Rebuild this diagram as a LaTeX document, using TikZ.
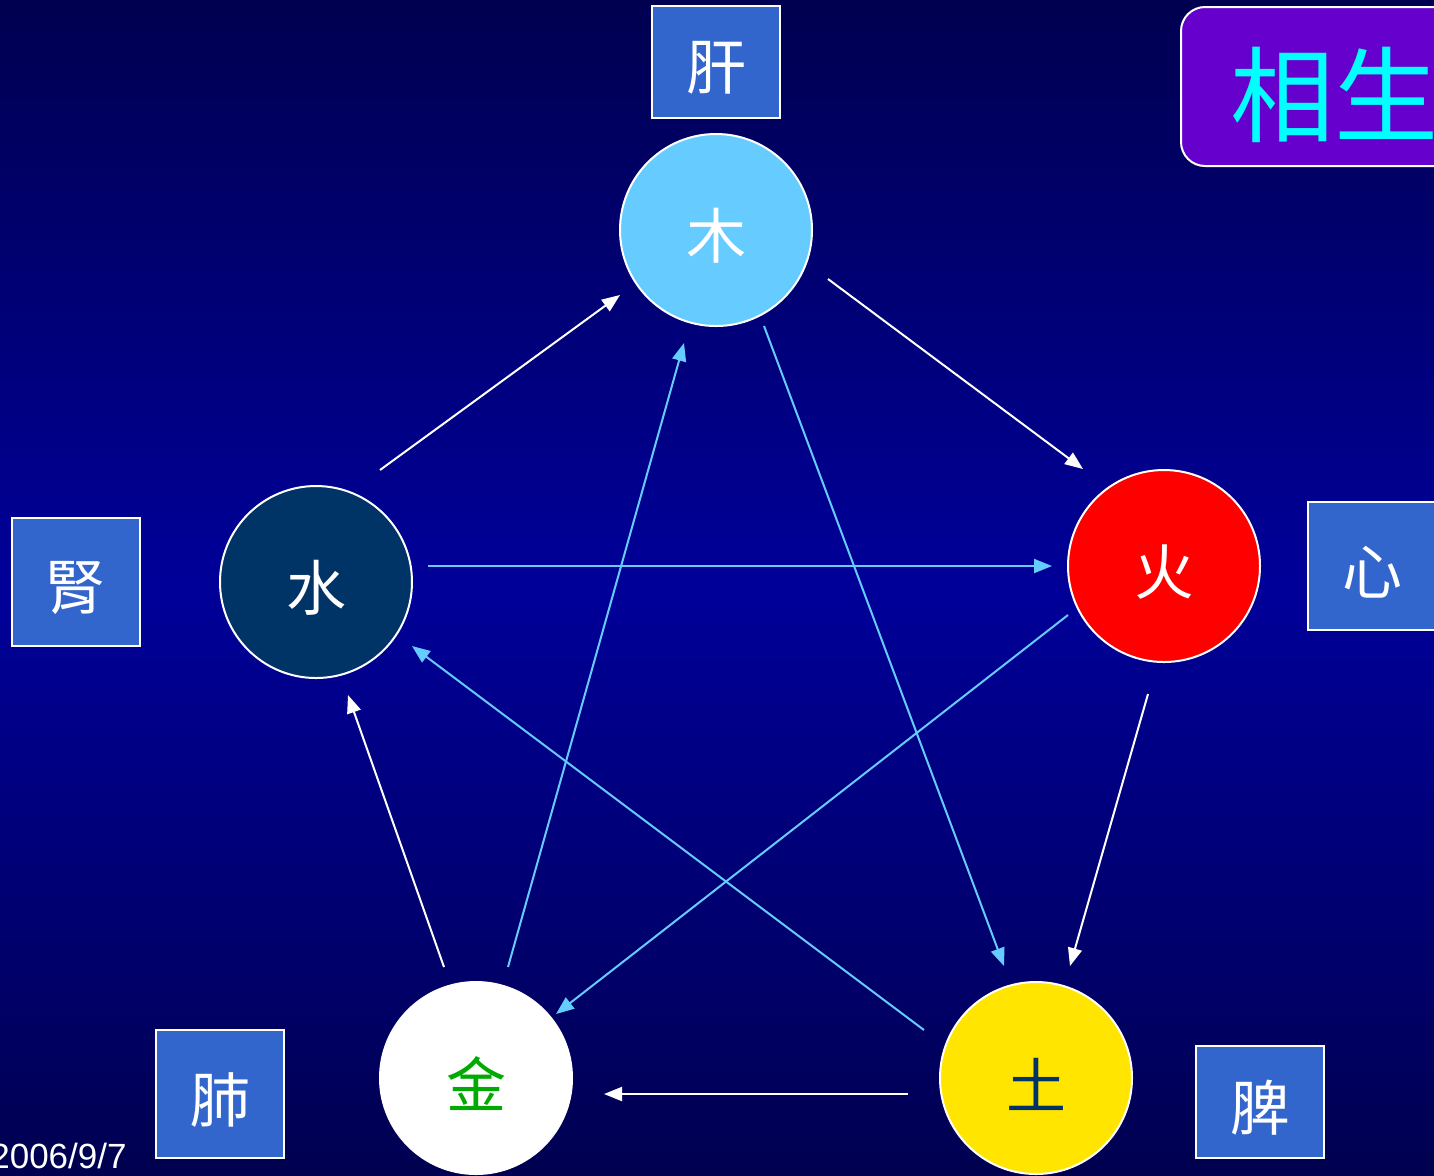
\documentclass[tikz,border=0pt]{standalone}
\usepackage{fontspec}
\setmainfont{Liberation Sans}
\newfontfamily\cjk{Noto Sans CJK TC}
\usetikzlibrary{arrows.meta}
\definecolor{bgtop}{HTML}{000050}
\definecolor{bgmid}{HTML}{000099}
\definecolor{boxblue}{HTML}{3366CC}
\definecolor{titlepurple}{HTML}{6600CC}
\definecolor{titlecyan}{HTML}{00FFFF}
\definecolor{woodblue}{HTML}{66CCFF}
\definecolor{waterblue}{HTML}{003366}
\definecolor{firered}{HTML}{FF0000}
\definecolor{earthyellow}{HTML}{FFE500}
\definecolor{metalgreen}{HTML}{00AA00}
\definecolor{starblue}{HTML}{66CCFF}
\tikzset{
  organ/.style={draw=white, line width=1pt, fill=boxblue,
    minimum width=64pt, inner sep=0pt},
  element/.style={circle, draw=white, line width=1pt, minimum size=96pt,
    inner sep=0pt},
  glyph/.style={inner sep=0pt, yshift=-3pt, font=\cjk\fontsize{30}{30}\selectfont},
  genarrow/.style={draw=white, line width=1pt, -{Triangle[length=9pt,width=7pt]}},
  ctrlarrow/.style={draw=starblue, line width=1pt, -{Triangle[length=9pt,width=7pt]}},
}
\begin{document}
\begin{tikzpicture}[x=0.5pt,y=-0.5pt]
\useasboundingbox (0,0) rectangle (1434,1175);
\clip (0,0) rectangle (1434,1175);
% background gradient: dark at top and bottom, brighter in the middle
\foreach \i in {0,...,117} {
  \pgfmathsetmacro\t{100*(1-abs(\i*10+5-587.5)/587.5)}
  \fill[bgmid!\t!bgtop] (0,\i*10) rectangle (1434,\i*10+10.6);
}

% title
\draw[draw=white, line width=1pt, fill=titlepurple, rounded corners=12pt] (1181,7) rectangle (1480,166);
\node[anchor=west, inner sep=0pt, text=titlecyan, font=\cjk\fontsize{52}{52}\selectfont] (title) at (1230,95) {相生};

% elements
\node[element, fill=woodblue, label={[glyph, text=white]center:木}] (wood) at (716,230) {};
\node[element, fill=waterblue, label={[glyph, text=white]center:水}] (water) at (316,582) {};
\node[element, fill=firered, label={[glyph, text=white]center:火}] (fire) at (1164,566) {};
\node[element, fill=white, label={[glyph, text=metalgreen]center:金}] (metal) at (476,1078) {};
\node[element, fill=earthyellow, label={[glyph, text=waterblue]center:土}] (earth) at (1036,1078) {};

% organs
\node[organ, minimum height=56pt, label={[glyph, text=white]center:肝}] (liver) at (716,62) {};
\node[organ, minimum height=64pt, label={[glyph, text=white]center:腎}] (kidney) at (75.5,582) {};
\node[organ, minimum height=64pt, label={[glyph, text=white]center:心}] (heart) at (1372,566) {};
\node[organ, minimum height=64pt, label={[glyph, text=white]center:肺}] (lung) at (220,1094) {};
\node[organ, minimum height=56pt, label={[glyph, text=white]center:脾}] (spleen) at (1260,1102) {};

% date
\node[anchor=base east, inner sep=0pt, text=white, font=\fontsize{17.5}{17.5}\selectfont] (date) at (127,1168) {2006/9/7};

% arrow end points
\coordinate (g1s) at (380,470);  \coordinate (g1e) at (620,295);
\coordinate (g2s) at (828,279);  \coordinate (g2e) at (1083,469);
\coordinate (g3s) at (1148,694); \coordinate (g3e) at (1070,966);
\coordinate (g4s) at (908,1094); \coordinate (g4e) at (604,1094);
\coordinate (g5s) at (444,967);  \coordinate (g5e) at (348,695);

\coordinate (c1s) at (428,566);  \coordinate (c1e) at (1052,566);
\coordinate (c2s) at (1068,615); \coordinate (c2e) at (556,1014);
\coordinate (c3s) at (508,967);  \coordinate (c3e) at (684,343);
\coordinate (c4s) at (764,326);  \coordinate (c4e) at (1004,966);
\coordinate (c5s) at (924,1030); \coordinate (c5e) at (412,646);

% generating cycle (white)
\draw[genarrow] (g1s) -- (g1e);
\draw[genarrow] (g2s) -- (g2e);
\draw[genarrow] (g3s) -- (g3e);
\draw[genarrow] (g4s) -- (g4e);
\draw[genarrow] (g5s) -- (g5e);

% inner star (light blue)
\draw[ctrlarrow] (c1s) -- (c1e);
\draw[ctrlarrow] (c2s) -- (c2e);
\draw[ctrlarrow] (c3s) -- (c3e);
\draw[ctrlarrow] (c4s) -- (c4e);
\draw[ctrlarrow] (c5s) -- (c5e);
\end{tikzpicture}
\end{document}
